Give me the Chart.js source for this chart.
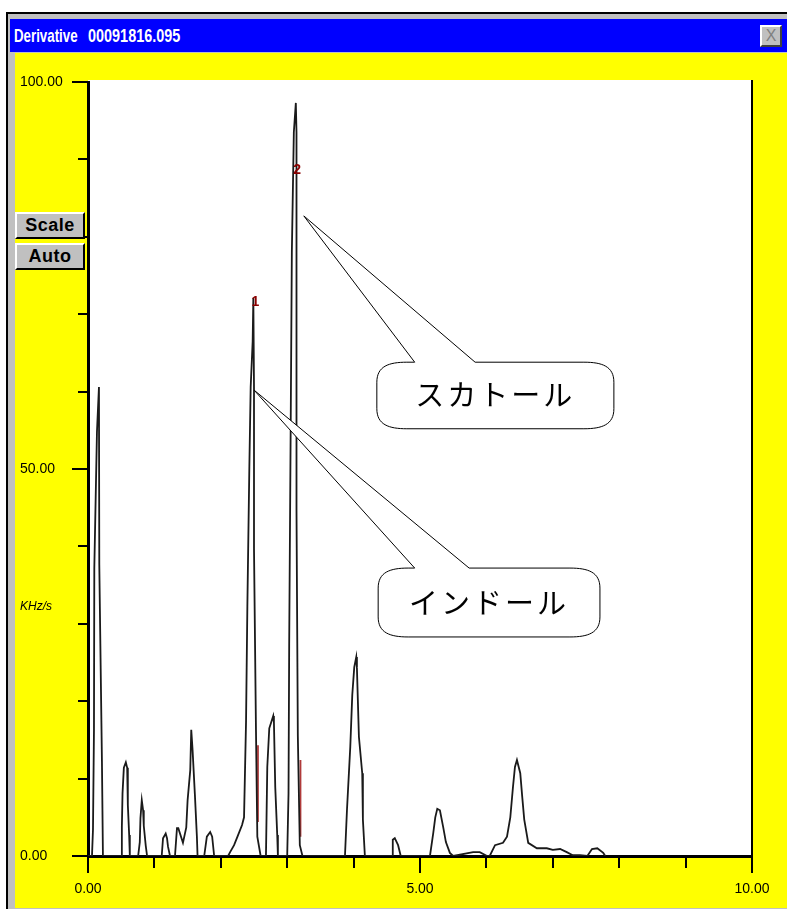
<!DOCTYPE html>
<html>
<head>
<meta charset="utf-8">
<script src="https://cdn.jsdelivr.net/npm/chart.js@4.4.1/dist/chart.umd.min.js"></script>
<style>
  body { margin: 0; width: 787px; height: 911px; background: #fff; position: relative; overflow: hidden; font-family: "Liberation Sans", Arial, sans-serif; }
  #frame { position: absolute; left: 6px; top: 12px; width: 781px; height: 897px; background: #c0c0c0; border-left: 2px solid #000; border-top: 2px solid #000; box-sizing: border-box; }
  #title { position: absolute; left: 10px; top: 19px; width: 777px; height: 33px; background: #0000ff; color: #fff; font: bold 19px "Liberation Sans", sans-serif; line-height: 33px; white-space: pre; }
  #title span { position: absolute; top: 0; transform-origin: left center; }
  #close { position: absolute; left: 760px; top: 25px; width: 22px; height: 22px; background: #c0c0c0; box-sizing: border-box; border-top: 2px solid #fff; border-left: 2px solid #fff; border-right: 2px solid #404040; border-bottom: 2px solid #404040; color: #808080; font: 16px "Liberation Sans", sans-serif; line-height: 18px; text-align: center; }
  #client { position: absolute; left: 15px; top: 53px; width: 772px; height: 855px; background: #ffff00; }
  #chart { position: absolute; left: 0; top: 0; z-index: 2; }
  .btn { position: absolute; left: 15px; width: 70px; height: 27px; z-index: 3; background: #c0c0c0; box-sizing: border-box; border-top: 2px solid #fff; border-left: 2px solid #fff; border-right: 2px solid #000; border-bottom: 2px solid #000; font: bold 18px "Liberation Sans", sans-serif; letter-spacing: 0.5px; line-height: 23px; text-align: center; color: #000; }
</style>
</head>
<body>
<div id="frame"></div>
<div id="title"><span style="left:4px; transform:scaleX(0.7)">Derivative</span><span style="left:78px; transform:scaleX(0.76)">00091816.095</span></div>
<div id="close">X</div>
<div id="client"></div>
<canvas id="chart" width="787" height="911"></canvas>
<div class="btn" style="top:212px">Scale</div>
<div class="btn" style="top:243px">Auto</div>
<script>
// 微分波形（時間 / KHz/s）
const traceX = [
  0.00, 0.06, 0.075, 0.09, 0.095, 0.135, 0.165, 0.17, 0.21, 0.225,
  0.50, 0.51, 0.52, 0.54, 0.57, 0.59, 0.60, 0.62, 0.63,
  0.755, 0.78, 0.79, 0.81, 0.83, 0.84, 0.87, 0.89,
  1.11, 1.13, 1.17, 1.19, 1.205, 1.235,
  1.31, 1.34, 1.36, 1.43, 1.48, 1.50, 1.54, 1.555, 1.575, 1.61, 1.64, 1.65,
  1.75, 1.79, 1.84, 1.87, 1.90,
  2.11, 2.14, 2.20, 2.26, 2.32, 2.35, 2.38, 2.40, 2.43, 2.45, 2.48, 2.49,
  2.50, 2.50, 2.53, 2.55, 2.60,
  2.68, 2.70, 2.73, 2.79, 2.80, 2.82, 2.85, 2.86,
  3.00, 3.02, 3.03, 3.05, 3.07, 3.10, 3.13, 3.14, 3.14, 3.16, 3.19, 3.23,
  3.87, 3.90, 3.95, 3.98, 4.01, 4.04, 4.05, 4.08, 4.13, 4.14, 4.17,
  4.58, 4.59, 4.62, 4.67, 4.71,
  5.15, 5.20, 5.23, 5.26, 5.30, 5.35, 5.39, 5.45, 5.50,
  5.80, 5.90, 6.01, 6.05, 6.13, 6.25, 6.31, 6.36, 6.40, 6.43, 6.46, 6.51, 6.54, 6.57, 6.63,
  6.76, 6.91, 7.00, 7.11, 7.21, 7.30, 7.41, 7.52, 7.59, 7.67, 7.76, 7.79
];
const traceY = [
  0, 0, 3.4, 16.3, 37.2, 54.8, 60.6, 37.7, 12.1, 0,
  0, 3.7, 8.1, 11.4, 12.1, 11.4, 6.6, 2.7, 0,
  0, 1.8, 4.9, 7.2, 5.9, 3.9, 1.3, 0,
  0, 2.3, 2.9, 2.3, 1.2, 0,
  0, 3.6, 3.6, 1.7, 3.7, 7.2, 11.1, 16.3, 13.7, 7.9, 2.5, 0,
  0, 2.5, 3.1, 2.5, 0,
  0, 0.5, 1.4, 2.7, 4.0, 5.0, 17.3, 32.2, 50.3, 60.6, 66.5, 72.1,
  60.6, 39.7, 16.1, 2.5, 0,
  0, 11.5, 16.5, 18.1, 17.3, 8.9, 2.7, 0,
  0, 8.1, 27.5, 52.3, 78.0, 93.5, 97.3, 93.5, 44.7, 15.6, 1.4, 0,
  0, 5.9, 14.1, 20.8, 24.4, 25.7, 24.3, 15.4, 10.7, 4.7, 0,
  0, 2.1, 2.3, 1.4, 0,
  0, 3.0, 5.0, 6.1, 5.9, 3.7, 1.8, 0.4, 0,
  0.5, 0.5, 0, 0, 1.4, 1.7, 2.5, 5.0, 8.9, 11.5, 12.4, 10.7, 7.6, 4.7, 1.7,
  1.0, 1.0, 0.8, 0.9, 0.5, 0.1, 0.1, 0, 0.9, 1.0, 0.4, 0
];

// ピーク番号とベースライン区切り
const peakNo = ['1', '2'];
const peakNoX = [2.52, 3.15];
const peakNoY = [71.6, 88.6];
const markX = [2.56, 3.20];
const markTop = [14.3, 12.4];
const markBottom = [4.4, 2.5];

// 目盛り
const xLabelled = [0, 5, 10];
const yLabelled = [0, 50, 100];
const yUnit = 'KHz/s';
const yUnitAt = 32.2;

// 吹き出し
const calloutText = ['スカトール', 'インドール'];
const calloutTipX = [3.25, 2.50];
const calloutTipY = [82.7, 60.2];

const calloutBox = [
  { left: 4.35, right: 7.92, top: 63.8, bottom: 55.2, base1: 4.92, base2: 5.83 },
  { left: 4.37, right: 7.71, top: 37.2, bottom: 28.3, base1: 4.92, base2: 5.74 }
];

const decor = {
  id: 'decor',
  beforeDraw(chart) {
    const { ctx, chartArea: a } = chart;
    ctx.save();
    ctx.fillStyle = '#fff';
    ctx.fillRect(a.left, a.top - 2, a.right - a.left, a.bottom - a.top + 2);
    ctx.restore();
  },
  afterDraw(chart) {
    const { ctx, chartArea: a } = chart;
    const xs = chart.scales.x, ys = chart.scales.y;
    ctx.save();
    // 右枠
    ctx.strokeStyle = '#000';
    ctx.lineWidth = 2;
    ctx.beginPath();
    ctx.moveTo(a.right, a.top - 2);
    ctx.lineTo(a.right, a.bottom);
    ctx.stroke();

    // ラベル付き目盛りは少し長い
    ctx.beginPath();
    yLabelled.forEach(v => {
      const y = ys.getPixelForValue(v);
      ctx.moveTo(a.left - 16, y);
      ctx.lineTo(a.left, y);
    });
    xLabelled.forEach(v => {
      const x = xs.getPixelForValue(v);
      ctx.moveTo(x, a.bottom);
      ctx.lineTo(x, a.bottom + 17);
    });
    ctx.stroke();

    // 単位
    ctx.fillStyle = '#000';
    ctx.font = 'italic 12px "Liberation Sans", sans-serif';
    ctx.textAlign = 'left';
    ctx.textBaseline = 'middle';
    ctx.fillText(yUnit, ys.left, ys.getPixelForValue(yUnitAt));

    // ピーク番号
    ctx.fillStyle = '#8b0000';
    ctx.font = 'bold 14px "Liberation Sans", sans-serif';
    ctx.textAlign = 'center';
    peakNo.forEach((t, i) => {
      ctx.fillText(t, xs.getPixelForValue(peakNoX[i]), ys.getPixelForValue(peakNoY[i]));
    });

    // 吹き出し
    calloutText.forEach((t, i) => {
      const b = calloutBox[i];
      const L = xs.getPixelForValue(b.left), R = xs.getPixelForValue(b.right);
      const T = ys.getPixelForValue(b.top), B = ys.getPixelForValue(b.bottom);
      const b1 = xs.getPixelForValue(b.base1), b2 = xs.getPixelForValue(b.base2);
      const tx = xs.getPixelForValue(calloutTipX[i]), ty = ys.getPixelForValue(calloutTipY[i]);
      const rx = 30, ry = 20;
      ctx.beginPath();
      ctx.moveTo(L, T + ry);
      ctx.bezierCurveTo(L, T + 4, L + rx * 0.4, T, L + rx, T);
      ctx.lineTo(b1, T);
      ctx.lineTo(tx, ty);
      ctx.lineTo(b2, T);
      ctx.lineTo(R - rx, T);
      ctx.bezierCurveTo(R - rx * 0.4, T, R, T + 4, R, T + ry);
      ctx.lineTo(R, B - ry);
      ctx.bezierCurveTo(R, B - 4, R - rx * 0.4, B, R - rx, B);
      ctx.lineTo(L + rx, B);
      ctx.bezierCurveTo(L + rx * 0.4, B, L, B - 4, L, B - ry);
      ctx.closePath();
      ctx.fillStyle = '#fff';
      ctx.fill();
      ctx.strokeStyle = '#000';
      ctx.lineWidth = 1;
      ctx.stroke();

      ctx.fillStyle = '#000';
      ctx.font = '29px "Noto Sans CJK JP", sans-serif';
      ctx.letterSpacing = '3px';
      ctx.textAlign = 'center';
      ctx.textBaseline = 'middle';
      ctx.fillText(t, (L + R) / 2, (T + B) / 2);
      ctx.letterSpacing = '0px';
    });
    ctx.restore();
  }
};

const datasets = [{
  data: traceX.map((x, i) => ({ x, y: traceY[i] })),
  borderColor: '#1a1a1a',
  borderWidth: 1.8,
  pointRadius: 0,
  tension: 0
}];
markX.forEach((x, i) => {
  datasets.push({
    data: [{ x, y: markTop[i] }, { x, y: markBottom[i] }],
    borderColor: '#b03a3a',
    borderWidth: 1.8,
    pointRadius: 0
  });
});

new Chart(document.getElementById('chart'), {
  type: 'line',
  data: { datasets },
  plugins: [decor],
  options: {
    responsive: false,
    animation: false,
    layout: { padding: { left: 20, right: 35, top: 82, bottom: 0 } },
    plugins: { legend: { display: false }, tooltip: { enabled: false } },
    scales: {
      x: {
        type: 'linear',
        min: 0,
        max: 10,
        afterFit: s => { s.height = 55; },
        border: { color: '#000', width: 3 },
        grid: { drawOnChartArea: false, drawTicks: true, tickLength: 12, color: '#000', lineWidth: 2 },
        ticks: {
          stepSize: 1,
          autoSkip: false,
          maxRotation: 0,
          padding: 13,
          color: '#000',
          font: { family: 'Liberation Sans', size: 14 },
          callback: v => xLabelled.includes(v) ? v.toFixed(2) : ''
        }
      },
      y: {
        min: 0,
        max: 100,
        afterFit: s => { s.width = 68; },
        border: { color: '#000', width: 3 },
        grid: { drawOnChartArea: false, drawTicks: true, tickLength: 10, color: '#000', lineWidth: 2 },
        ticks: {
          stepSize: 10,
          autoSkip: false,
          crossAlign: 'far',
          color: '#000',
          font: { family: 'Liberation Sans', size: 14 },
          callback: v => yLabelled.includes(v) ? v.toFixed(2) : ''
        }
      }
    }
  }
});
</script>
</body>
</html>
